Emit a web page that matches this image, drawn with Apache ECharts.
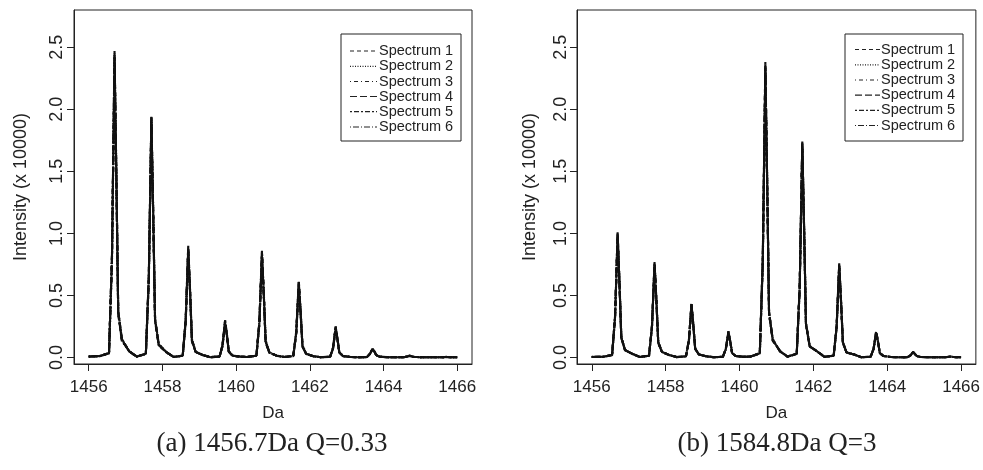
<!DOCTYPE html>
<html><head><meta charset="utf-8">
<script src="https://cdn.jsdelivr.net/npm/echarts@6/dist/echarts.min.js"></script>
<style>html,body{margin:0;padding:0;background:#fff}#c{width:983px;height:470px}</style>
</head><body><div id="c"></div>
<script>
const xDa = [1456.0,
1456.3,1456.55,1456.63,1456.7,1456.75,1456.8,1456.9,1457.1,
1457.3,1457.55,1457.63,1457.7,1457.75,1457.8,1457.9,1458.1,
1458.3,1458.55,1458.63,1458.7,1458.75,1458.8,1458.9,1459.1,
1459.3,1459.55,1459.63,1459.7,1459.75,1459.8,1459.9,1460.1,
1460.3,1460.55,1460.63,1460.7,1460.75,1460.8,1460.9,1461.1,
1461.3,1461.55,1461.63,1461.7,1461.75,1461.8,1461.9,1462.1,
1462.3,1462.55,1462.63,1462.7,1462.75,1462.8,1462.9,1463.1,
1463.3,1463.55,1463.63,1463.7,1463.75,1463.8,1463.9,1464.1,
1464.3,1464.55,1464.63,1464.7,1464.75,1464.8,1464.9,1465.1,
1465.3,1465.55,1465.63,1465.7,1465.75,1465.8,1465.9,1466.0];

const aS1 = [0.008,
0.012,0.035,0.80,2.47,1.45,0.36,0.14,0.05,
0.008,0.030,0.64,1.94,1.15,0.30,0.10,0.045,
0.005,0.015,0.30,0.90,0.54,0.14,0.045,0.020,
0.003,0.008,0.10,0.30,0.18,0.05,0.015,0.008,
0.005,0.015,0.28,0.85,0.51,0.13,0.040,0.015,
0.005,0.012,0.20,0.62,0.37,0.09,0.030,0.010,
0.003,0.006,0.08,0.25,0.15,0.04,0.012,0.005,
0.002,0.004,0.03,0.07,0.05,0.02,0.006,0.003,
0.002,0.003,0.008,0.015,0.012,0.007,0.004,0.002,
0.002,0.002,0.003,0.005,0.004,0.003,0.002,0.002];
const aS2 = [0.007,
0.011,0.033,0.76,2.42,1.48,0.38,0.15,0.048,
0.007,0.028,0.61,1.91,1.18,0.31,0.11,0.042,
0.004,0.014,0.28,0.88,0.55,0.15,0.047,0.018,
0.003,0.007,0.09,0.29,0.19,0.05,0.016,0.007,
0.004,0.014,0.26,0.84,0.53,0.14,0.042,0.014,
0.004,0.011,0.19,0.60,0.38,0.10,0.032,0.010,
0.003,0.005,0.07,0.24,0.15,0.045,0.013,0.005,
0.002,0.004,0.028,0.065,0.048,0.02,0.006,0.003,
0.002,0.003,0.007,0.014,0.012,0.007,0.004,0.002,
0.002,0.002,0.003,0.005,0.004,0.003,0.002,0.002];
const aS3 = [0.009,
0.013,0.038,0.83,2.38,1.40,0.35,0.13,0.052,
0.009,0.032,0.66,1.95,1.12,0.29,0.10,0.048,
0.005,0.016,0.31,0.86,0.52,0.13,0.044,0.021,
0.004,0.009,0.10,0.28,0.17,0.045,0.015,0.008,
0.005,0.016,0.29,0.82,0.49,0.12,0.038,0.016,
0.005,0.013,0.21,0.58,0.35,0.09,0.028,0.011,
0.003,0.006,0.08,0.23,0.14,0.04,0.011,0.005,
0.002,0.004,0.03,0.07,0.05,0.019,0.006,0.003,
0.002,0.003,0.008,0.016,0.012,0.007,0.004,0.002,
0.002,0.002,0.003,0.004,0.004,0.003,0.002,0.002];
const aS4 = [0.008,
0.012,0.034,0.78,2.45,1.46,0.37,0.14,0.05,
0.008,0.029,0.63,1.88,1.14,0.30,0.10,0.044,
0.005,0.015,0.29,0.89,0.53,0.14,0.046,0.019,
0.003,0.008,0.10,0.30,0.18,0.05,0.015,0.008,
0.005,0.015,0.27,0.83,0.50,0.13,0.041,0.015,
0.005,0.012,0.20,0.61,0.36,0.09,0.030,0.010,
0.003,0.006,0.08,0.25,0.15,0.04,0.012,0.005,
0.002,0.004,0.03,0.068,0.049,0.02,0.006,0.003,
0.002,0.003,0.008,0.015,0.012,0.007,0.004,0.002,
0.002,0.002,0.003,0.006,0.004,0.003,0.002,0.002];
const aS5 = [0.007,
0.011,0.036,0.81,2.35,1.42,0.36,0.15,0.049,
0.007,0.031,0.65,1.90,1.13,0.31,0.11,0.046,
0.004,0.015,0.30,0.87,0.52,0.14,0.045,0.020,
0.003,0.008,0.09,0.27,0.17,0.05,0.016,0.007,
0.004,0.015,0.28,0.81,0.50,0.13,0.040,0.015,
0.004,0.012,0.20,0.59,0.36,0.09,0.031,0.010,
0.003,0.006,0.08,0.24,0.15,0.04,0.012,0.005,
0.002,0.004,0.029,0.066,0.048,0.02,0.006,0.003,
0.002,0.003,0.007,0.013,0.011,0.007,0.004,0.002,
0.002,0.002,0.003,0.005,0.004,0.003,0.002,0.002];
const aS6 = [0.008,
0.012,0.035,0.79,2.44,1.47,0.37,0.14,0.051,
0.008,0.030,0.64,1.93,1.16,0.30,0.10,0.045,
0.005,0.015,0.28,0.85,0.52,0.14,0.045,0.020,
0.003,0.008,0.10,0.29,0.18,0.05,0.015,0.008,
0.005,0.015,0.29,0.86,0.52,0.13,0.041,0.015,
0.005,0.012,0.19,0.57,0.35,0.09,0.029,0.010,
0.003,0.006,0.07,0.23,0.14,0.04,0.012,0.005,
0.002,0.004,0.03,0.07,0.05,0.02,0.006,0.003,
0.002,0.003,0.008,0.015,0.012,0.007,0.004,0.002,
0.002,0.002,0.003,0.004,0.004,0.003,0.002,0.002];

const bS1 = [0.005,
0.006,0.020,0.33,1.01,0.60,0.16,0.060,0.030,
0.005,0.015,0.25,0.77,0.46,0.12,0.045,0.020,
0.004,0.010,0.14,0.44,0.26,0.07,0.025,0.010,
0.003,0.006,0.07,0.21,0.13,0.035,0.012,0.006,
0.008,0.035,0.78,2.38,1.40,0.36,0.14,0.050,
0.008,0.030,0.57,1.74,1.03,0.27,0.09,0.050,
0.006,0.015,0.25,0.76,0.45,0.12,0.040,0.025,
0.003,0.006,0.07,0.21,0.13,0.035,0.012,0.005,
0.002,0.003,0.018,0.045,0.032,0.012,0.005,0.003,
0.002,0.002,0.004,0.008,0.006,0.004,0.003,0.002];
const bS2 = [0.004,
0.005,0.019,0.31,0.98,0.62,0.17,0.062,0.028,
0.004,0.014,0.24,0.75,0.47,0.13,0.047,0.019,
0.003,0.009,0.13,0.42,0.27,0.075,0.026,0.010,
0.003,0.005,0.065,0.20,0.13,0.036,0.012,0.006,
0.007,0.033,0.75,2.33,1.43,0.37,0.15,0.048,
0.007,0.028,0.55,1.71,1.05,0.28,0.095,0.048,
0.005,0.014,0.24,0.74,0.46,0.125,0.042,0.024,
0.003,0.005,0.065,0.20,0.13,0.036,0.012,0.005,
0.002,0.003,0.017,0.043,0.031,0.012,0.005,0.003,
0.002,0.002,0.004,0.007,0.006,0.004,0.003,0.002];
const bS3 = [0.006,
0.007,0.021,0.34,0.96,0.58,0.155,0.058,0.031,
0.006,0.016,0.26,0.74,0.45,0.115,0.044,0.021,
0.004,0.011,0.145,0.41,0.25,0.068,0.024,0.011,
0.003,0.006,0.072,0.20,0.125,0.034,0.012,0.006,
0.009,0.037,0.80,2.30,1.38,0.35,0.135,0.052,
0.009,0.032,0.58,1.70,1.01,0.26,0.088,0.052,
0.006,0.016,0.26,0.73,0.44,0.115,0.039,0.026,
0.003,0.006,0.072,0.20,0.125,0.034,0.012,0.005,
0.002,0.003,0.019,0.044,0.032,0.012,0.005,0.003,
0.002,0.002,0.004,0.008,0.006,0.004,0.003,0.002];
const bS4 = [0.005,
0.006,0.020,0.32,1.00,0.61,0.16,0.060,0.030,
0.005,0.015,0.25,0.76,0.46,0.12,0.045,0.020,
0.004,0.010,0.14,0.43,0.26,0.07,0.025,0.010,
0.003,0.006,0.07,0.21,0.13,0.035,0.012,0.006,
0.008,0.035,0.77,2.36,1.41,0.36,0.14,0.050,
0.008,0.030,0.56,1.73,1.04,0.27,0.09,0.050,
0.006,0.015,0.25,0.75,0.45,0.12,0.040,0.025,
0.003,0.006,0.07,0.21,0.13,0.035,0.012,0.005,
0.002,0.003,0.018,0.045,0.032,0.012,0.005,0.003,
0.002,0.002,0.004,0.008,0.006,0.004,0.003,0.002];
const bS5 = [0.004,
0.006,0.019,0.32,0.97,0.59,0.165,0.061,0.029,
0.004,0.015,0.245,0.73,0.45,0.125,0.046,0.020,
0.003,0.010,0.135,0.40,0.255,0.072,0.025,0.010,
0.003,0.006,0.068,0.19,0.125,0.035,0.012,0.006,
0.007,0.034,0.76,2.28,1.37,0.37,0.145,0.049,
0.007,0.029,0.56,1.68,1.02,0.275,0.092,0.049,
0.005,0.015,0.245,0.72,0.44,0.12,0.041,0.024,
0.003,0.006,0.068,0.19,0.125,0.035,0.012,0.005,
0.002,0.003,0.017,0.042,0.030,0.012,0.005,0.003,
0.002,0.002,0.004,0.007,0.006,0.004,0.003,0.002];
const bS6 = [0.005,
0.006,0.020,0.33,0.99,0.60,0.16,0.060,0.030,
0.005,0.015,0.25,0.76,0.46,0.12,0.045,0.020,
0.004,0.010,0.14,0.43,0.26,0.07,0.025,0.010,
0.003,0.006,0.07,0.21,0.13,0.035,0.012,0.006,
0.008,0.035,0.78,2.35,1.40,0.36,0.14,0.050,
0.008,0.030,0.57,1.72,1.03,0.27,0.09,0.050,
0.006,0.015,0.25,0.75,0.45,0.12,0.040,0.025,
0.003,0.006,0.07,0.205,0.13,0.035,0.012,0.005,
0.002,0.003,0.018,0.044,0.032,0.012,0.005,0.003,
0.002,0.002,0.004,0.008,0.006,0.004,0.003,0.002];

const seriesNames = ['Spectrum 1','Spectrum 2','Spectrum 3','Spectrum 4','Spectrum 5','Spectrum 6'];
const xTicks = [1456,1458,1460,1462,1464,1466];
const yTicks = [0,0.5,1.0,1.5,2.0,2.5];
const xTitle = 'Da';
const yTitle = 'Intensity (x 10000)';
const captions = ['(a) 1456.7Da Q=0.33', '(b) 1584.8Da Q=3'];

const panelA = [aS1,aS2,aS3,aS4,aS5,aS6];
const panelB = [bS1,bS2,bS3,bS4,bS5,bS6];

const dashes = [[4,3],[1,1.5],[1,3,4,3],[7,3],[2,2,5,2],[1,2,6,2]];
const SANS = '"Liberation Sans", Arial, sans-serif';
const SERIF = '"Liberation Serif", "Times New Roman", serif';

function xAxisCfg(gi){
  return {
    type:'value', gridIndex:gi, min:1455.6, max:1466.4,
    name:xTitle, nameLocation:'middle', nameGap:41,
    nameTextStyle:{fontFamily:SANS, fontSize:17, color:'#222'},
    axisLine:{show:true, onZero:false, lineStyle:{color:'#222', width:1}},
    axisTick:{show:true, length:7, customValues:xTicks, lineStyle:{color:'#222'}},
    axisLabel:{customValues:xTicks, margin:15, fontFamily:SANS, fontSize:17, color:'#222',
      formatter:v=>String(v)},
    splitLine:{show:false}
  };
}
function yAxisCfg(gi, gap, lm){
  return {
    type:'value', gridIndex:gi, min:-0.052, max:2.8,
    name:yTitle, nameLocation:'middle', nameGap:gap,
    nameTextStyle:{fontFamily:SANS, fontSize:18, color:'#222'},
    axisLine:{show:true, onZero:false, lineStyle:{color:'#222', width:1}},
    axisTick:{show:true, length:7, customValues:yTicks, lineStyle:{color:'#222'}},
    axisLabel:{customValues:yTicks, rotate:90, margin:lm, fontFamily:SANS, fontSize:18, color:'#222',
      formatter:v=>Number(v).toFixed(1)},
    splitLine:{show:false}
  };
}

const series = [];
[panelA, panelB].forEach((panel, pi) => {
  panel.forEach((ys, si) => {
    series.push({
      type:'line', name:seriesNames[si], xAxisIndex:pi, yAxisIndex:pi,
      data: xDa.map((x,i)=>[x, ys[i]]),
      showSymbol:false, symbol:'none', smooth:false, silent:true,
      lineStyle:{color:'#111', width:2.1, type:dashes[si]}
    });
  });
});

function legendGraphic(box, lineX1, lineX2, textX, rowY){
  const els = [{type:'rect', shape:{x:box[0], y:box[1], width:box[2], height:box[3]},
    style:{fill:'#fff', stroke:'#222', lineWidth:1}}];
  seriesNames.forEach((n,i)=>{
    els.push({type:'line', shape:{x1:lineX1, y1:rowY[i], x2:lineX2, y2:rowY[i]},
      style:{stroke:'#222', lineWidth:1.2, lineDash:dashes[i]}});
    els.push({type:'text', style:{text:n, x:textX, y:rowY[i], font:'14.5px '+SANS, fill:'#222',
      align:'left', verticalAlign:'middle'}});
  });
  return els;
}

const graphic = [].concat(
  legendGraphic([341,34,120,107], 350, 377, 379, [51,66.3,81.5,96.5,111.7,127]),
  legendGraphic([845,34,118,107], 855, 880, 881, [49.5,64.8,80,95.2,110.4,125.5]),
  [
    {type:'text', style:{text:captions[0], x:272, y:444, font:'27px '+SERIF, fill:'#222', align:'center', verticalAlign:'middle'}},
    {type:'text', style:{text:captions[1], x:777, y:444, font:'27px '+SERIF, fill:'#222', align:'center', verticalAlign:'middle'}}
  ]
);

const chart = echarts.init(document.getElementById('c'), null, {renderer:'canvas'});
chart.setOption({
  animation:false,
  backgroundColor:'#fff',
  grid:[
    {left:74, top:10, width:398, height:354, show:true, borderColor:'#222', borderWidth:1, backgroundColor:'transparent'},
    {left:577, top:10, width:400, height:354, show:true, borderColor:'#222', borderWidth:1, backgroundColor:'transparent'}
  ],
  xAxis:[xAxisCfg(0), xAxisCfg(1)],
  yAxis:[yAxisCfg(0, 44, 8), yAxisCfg(1, 38, 7)],
  series: series,
  graphic: graphic
});
</script></body></html>
